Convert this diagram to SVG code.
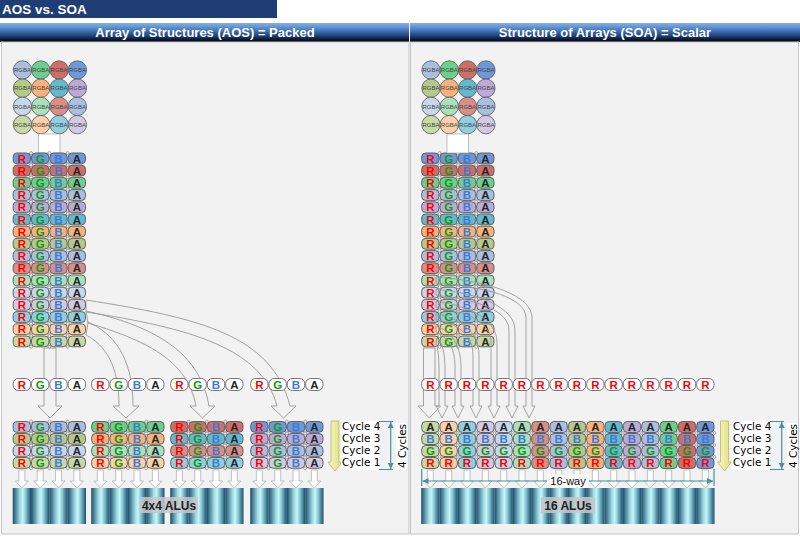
<svg xmlns="http://www.w3.org/2000/svg" width="800" height="537" viewBox="0 0 800 537">
<style>
text{font-family:"Liberation Sans",Arial,sans-serif}
.L{font-size:11.5px;font-weight:bold;text-anchor:middle}
.R{fill:#f00}.G{fill:#109a10}.B{fill:#3b7bd6}.A{fill:#262626}
.cell{stroke:#555;stroke-width:0.9}
.pill{fill:#fff;stroke:#666;stroke-width:0.9}
.dot{fill:#fff;stroke:#666;stroke-width:0.6}
.harrow{fill:none;stroke:#999;stroke-width:0.9}
.sarrow{fill:#fff;stroke:#a8a8a8;stroke-width:0.7}
.cyc{font-family:"DejaVu Sans",Verdana,sans-serif;font-size:10.4px;fill:#000}
.vc{font-family:"DejaVu Sans",Verdana,sans-serif;font-size:10.5px;fill:#000;text-anchor:middle}
.teal{stroke:#4a8fa3;stroke-width:1.2;fill:none}
.hdr{font-size:13px;font-weight:bold;fill:#fff;text-anchor:middle}
.alul{font-size:12px;font-weight:bold;fill:#222;text-anchor:middle}
.lbg{fill:#c8c8c8;fill-opacity:0.85}
</style>
<defs>
<linearGradient id="hdrg" x1="0" y1="0" x2="0" y2="1">
<stop offset="0" stop-color="#86b1e6"/><stop offset="0.35" stop-color="#4b7ec4"/><stop offset="0.7" stop-color="#1c3c70"/><stop offset="1" stop-color="#000"/>
</linearGradient>
<linearGradient id="alug" x1="0" y1="0" x2="1" y2="0">
<stop offset="0" stop-color="#1d4e68"/><stop offset="0.4" stop-color="#9edbe6"/><stop offset="0.55" stop-color="#c9f5f8"/><stop offset="0.72" stop-color="#7fc3d2"/><stop offset="1" stop-color="#1d4e68"/>
</linearGradient>
<linearGradient id="yel" x1="0" y1="0" x2="1" y2="0">
<stop offset="0" stop-color="#f8f8c8"/><stop offset="1" stop-color="#dede7c"/>
</linearGradient>
<marker id="ta" viewBox="0 0 6 6" refX="6" refY="3" markerWidth="6" markerHeight="6" markerUnits="userSpaceOnUse" orient="auto-start-reverse">
<path d="M0,0 L6,3 L0,6 Z" fill="#4a8fa3"/>
</marker>
<g id="row">
<rect class="cell" x="0.5" y="0.5" width="17.3" height="10.8" rx="4"/>
<rect class="cell" x="18.83" y="0.5" width="17.3" height="10.8" rx="4"/>
<rect class="cell" x="37.17" y="0.5" width="17.3" height="10.8" rx="4"/>
<rect class="cell" x="55.5" y="0.5" width="17.3" height="10.8" rx="4"/>
<text class="L R" x="9.17" y="10">R</text>
<text class="L G" x="27.5" y="10">G</text>
<text class="L B" x="45.83" y="10">B</text>
<text class="L A" x="64.17" y="10">A</text>
<circle class="dot" cx="18.33" cy="0.5" r="1.4"/>
<circle class="dot" cx="36.67" cy="0.5" r="1.4"/>
<circle class="dot" cx="55" cy="0.5" r="1.4"/>
<circle class="dot" cx="18.33" cy="11.3" r="1.4"/>
<circle class="dot" cx="36.67" cy="11.3" r="1.4"/>
<circle class="dot" cx="55" cy="11.3" r="1.4"/>
</g>
<g id="prow">
<rect class="pill" x="0.5" y="0.5" width="17.3" height="12" rx="5"/>
<rect class="pill" x="18.83" y="0.5" width="17.3" height="12" rx="5"/>
<rect class="pill" x="37.17" y="0.5" width="17.3" height="12" rx="5"/>
<rect class="pill" x="55.5" y="0.5" width="17.3" height="12" rx="5"/>
<text class="L R" x="9.17" y="10.6">R</text>
<text class="L G" x="27.5" y="10.6">G</text>
<text class="L B" x="45.83" y="10.6">B</text>
<text class="L A" x="64.17" y="10.6">A</text>
</g>
<g id="rp">
<rect class="pill" x="0.5" y="0.5" width="17.3" height="12" rx="5"/>
<text class="L R" x="9.17" y="10.6">R</text>
</g>
<g id="col">
<rect class="cell" x="0.5" y="0.5" width="17.3" height="11" rx="4"/>
<rect class="cell" x="0.5" y="12.5" width="17.3" height="11" rx="4"/>
<rect class="cell" x="0.5" y="24.5" width="17.3" height="11" rx="4"/>
<rect class="cell" x="0.5" y="36.5" width="17.3" height="11" rx="4"/>
<text class="L A" x="9.17" y="10.1">A</text>
<text class="L B" x="9.17" y="22.1">B</text>
<text class="L G" x="9.17" y="34.1">G</text>
<text class="L R" x="9.17" y="46.1">R</text>
<circle class="dot" cx="18.33" cy="12" r="1.3"/>
<circle class="dot" cx="18.33" cy="24" r="1.3"/>
<circle class="dot" cx="18.33" cy="36" r="1.3"/>
</g>
<g id="circ">
<circle r="9.2" stroke="#555" stroke-width="0.8"/>
<text x="0" y="2.1" font-size="6" text-anchor="middle" fill="#444">RGBA</text>
</g>
<g id="sa4">
<path class="sarrow" d="M6.17,470 V481 H2.67 L9.17,488 L15.67,481 H12.17 V470 Z"/>
<path class="sarrow" d="M24.5,470 V481 H21 L27.5,488 L34,481 H30.5 V470 Z"/>
<path class="sarrow" d="M42.83,470 V481 H39.33 L45.83,488 L52.33,481 H48.83 V470 Z"/>
<path class="sarrow" d="M61.17,470 V481 H57.67 L64.17,488 L70.67,481 H67.17 V470 Z"/>
</g>
<g id="alu4" fill="url(#alug)">
<rect x="0" y="488" width="18.33" height="36"/>
<rect x="18.33" y="488" width="18.33" height="36"/>
<rect x="36.67" y="488" width="18.33" height="36"/>
<rect x="55" y="488" width="18.33" height="36"/>
</g>
</defs>

<rect width="800" height="537" fill="#fff"/>
<g id="title">
<rect x="0" y="0" width="277" height="18" fill="#1f3e75"/>
<text x="2" y="14" font-size="13.5" font-weight="bold" fill="#fff">AOS vs. SOA</text>
</g>
<g id="panels">
<rect x="0" y="23" width="409" height="19" fill="url(#hdrg)"/>
<rect x="410" y="23" width="390" height="19" fill="url(#hdrg)"/>
<text class="hdr" x="205" y="37">Array of Structures (AOS) = Packed</text>
<text class="hdr" x="605" y="37">Structure of Arrays (SOA) = Scalar</text>
<rect x="1.5" y="42" width="407.5" height="492" fill="#f2f2f2" stroke="#c4c4c4"/>
<rect x="410.5" y="42" width="388" height="492" fill="#f2f2f2" stroke="#c4c4c4"/>
</g>

<!-- ================= LEFT (AOS) ================= -->
<g id="aos-input">
<use href="#circ" x="22.5" y="70" fill="#abbedd"/>
<use href="#circ" x="40.8" y="70" fill="#6ccf8e"/>
<use href="#circ" x="59.1" y="70" fill="#cd6e69"/>
<use href="#circ" x="77.4" y="70" fill="#6f98d8"/>
<use href="#circ" x="22.5" y="88.2" fill="#b5c98a"/>
<use href="#circ" x="40.8" y="88.2" fill="#f9b27c"/>
<use href="#circ" x="59.1" y="88.2" fill="#65b9cf"/>
<use href="#circ" x="77.4" y="88.2" fill="#bcaad7"/>
<use href="#circ" x="22.5" y="106.4" fill="#c9d7ec"/>
<use href="#circ" x="40.8" y="106.4" fill="#a8e2bb"/>
<use href="#circ" x="59.1" y="106.4" fill="#d98f88"/>
<use href="#circ" x="77.4" y="106.4" fill="#aabfe2"/>
<use href="#circ" x="22.5" y="124.6" fill="#c7d9a5"/>
<use href="#circ" x="40.8" y="124.6" fill="#fdd1a8"/>
<use href="#circ" x="59.1" y="124.6" fill="#8fd0e0"/>
<use href="#circ" x="77.4" y="124.6" fill="#d2c9e4"/>
</g>
<g id="aos-connectors">
<path class="sarrow" d="M38.5,134 H60 V153 H38.5 Z"/>
<path class="harrow" d="M44,348 V406 H38 L50,418 L62,406 H56 V348 Z"/>
<path class="harrow" d="M86,300 C200,318 272,335 290,406 L296,406 L283.5,418 L271,406 L277,406 C262,348 190,328 86,312 Z"/>
<path class="harrow" d="M86,311 C150,325 200,350 209,406 L215,406 L202.5,418 L190,406 L196,406 C188,360 145,340 88,323 Z"/>
<path class="harrow" d="M88,322 C112,333 133,355 133,406 L139,406 L126,418 L113,406 L119,406 C119,365 105,345 86,335 Z"/>
</g>
<g id="aos-stack">
<use href="#row" x="12.7" y="152.5" fill="#6f98d8"/>
<use href="#row" x="12.7" y="164.7" fill="#cd6e69"/>
<use href="#row" x="12.7" y="176.9" fill="#6ccf8e"/>
<use href="#row" x="12.7" y="189.1" fill="#abbedd"/>
<use href="#row" x="12.7" y="201.3" fill="#bcaad7"/>
<use href="#row" x="12.7" y="213.5" fill="#65b9cf"/>
<use href="#row" x="12.7" y="225.7" fill="#f9b27c"/>
<use href="#row" x="12.7" y="237.9" fill="#b5c98a"/>
<use href="#row" x="12.7" y="250.1" fill="#aabfe2"/>
<use href="#row" x="12.7" y="262.3" fill="#d98f88"/>
<use href="#row" x="12.7" y="274.5" fill="#a8e2bb"/>
<use href="#row" x="12.7" y="286.7" fill="#c9d7ec"/>
<use href="#row" x="12.7" y="298.9" fill="#d2c9e4"/>
<use href="#row" x="12.7" y="311.1" fill="#8fd0e0"/>
<use href="#row" x="12.7" y="323.3" fill="#fdd1a8"/>
<use href="#row" x="12.7" y="335.5" fill="#c7d9a5"/>
</g>
<g id="aos-packed">
<use href="#prow" x="12.7" y="378"/>
<use href="#prow" x="91.2" y="378"/>
<use href="#prow" x="170.2" y="378"/>
<use href="#prow" x="250.2" y="378"/>
</g>
<g id="aos-group1">
<use href="#row" x="12.7" y="421" fill="#abbedd"/>
<use href="#row" x="12.7" y="433" fill="#b5c98a"/>
<use href="#row" x="12.7" y="445" fill="#c9d7ec"/>
<use href="#row" x="12.7" y="457" fill="#c7d9a5"/>
</g>
<g id="aos-group2">
<use href="#row" x="91.2" y="421" fill="#6ccf8e"/>
<use href="#row" x="91.2" y="433" fill="#f9b27c"/>
<use href="#row" x="91.2" y="445" fill="#a8e2bb"/>
<use href="#row" x="91.2" y="457" fill="#fdd1a8"/>
</g>
<g id="aos-group3">
<use href="#row" x="170.2" y="421" fill="#cd6e69"/>
<use href="#row" x="170.2" y="433" fill="#65b9cf"/>
<use href="#row" x="170.2" y="445" fill="#d98f88"/>
<use href="#row" x="170.2" y="457" fill="#8fd0e0"/>
</g>
<g id="aos-group4">
<use href="#row" x="250.2" y="421" fill="#6f98d8"/>
<use href="#row" x="250.2" y="433" fill="#bcaad7"/>
<use href="#row" x="250.2" y="445" fill="#aabfe2"/>
<use href="#row" x="250.2" y="457" fill="#d2c9e4"/>
</g>
<g id="aos-feed">
<use href="#sa4" x="12.7"/>
<use href="#sa4" x="91.2"/>
<use href="#sa4" x="170.2"/>
<use href="#sa4" x="250.2"/>
</g>
<g id="aos-alus">
<use href="#alu4" x="12.7"/>
<use href="#alu4" x="91.2"/>
<use href="#alu4" x="170.2"/>
<use href="#alu4" x="250.2"/>
<rect class="lbg" x="140" y="497" width="58" height="16"/>
<text class="alul" x="169" y="509.5">4x4 ALUs</text>
</g>
<g id="aos-cycles">
<path d="M331,421 H339 V462 H342 L335,471 L328,462 H331 Z" fill="url(#yel)" stroke="#b8b860" stroke-width="0.8"/>
<rect x="341" y="421" width="38" height="49" fill="#fff"/>
<text class="cyc" x="342" y="430">Cycle 4</text>
<text class="cyc" x="342" y="442">Cycle 3</text>
<text class="cyc" x="342" y="454">Cycle 2</text>
<text class="cyc" x="342" y="466">Cycle 1</text>
<path class="teal" d="M379,421.5 H393 M379,469.5 H393"/>
<path class="teal" d="M390.7,422 V469" marker-start="url(#ta)" marker-end="url(#ta)"/>
<rect x="396" y="423" width="11" height="46" fill="#fff"/>
<text class="vc" transform="translate(406,446) rotate(-90)">4 Cycles</text>
</g>

<!-- ================= RIGHT (SOA) ================= -->
<g id="soa-input">
<use href="#circ" x="431" y="70" fill="#abbedd"/>
<use href="#circ" x="449.3" y="70" fill="#6ccf8e"/>
<use href="#circ" x="467.6" y="70" fill="#cd6e69"/>
<use href="#circ" x="485.9" y="70" fill="#6f98d8"/>
<use href="#circ" x="431" y="88.2" fill="#b5c98a"/>
<use href="#circ" x="449.3" y="88.2" fill="#f9b27c"/>
<use href="#circ" x="467.6" y="88.2" fill="#65b9cf"/>
<use href="#circ" x="485.9" y="88.2" fill="#bcaad7"/>
<use href="#circ" x="431" y="106.4" fill="#c9d7ec"/>
<use href="#circ" x="449.3" y="106.4" fill="#a8e2bb"/>
<use href="#circ" x="467.6" y="106.4" fill="#d98f88"/>
<use href="#circ" x="485.9" y="106.4" fill="#aabfe2"/>
<use href="#circ" x="431" y="124.6" fill="#c7d9a5"/>
<use href="#circ" x="449.3" y="124.6" fill="#fdd1a8"/>
<use href="#circ" x="467.6" y="124.6" fill="#8fd0e0"/>
<use href="#circ" x="485.9" y="124.6" fill="#d2c9e4"/>
</g>
<g id="soa-stack">
<use href="#row" x="421.2" y="152.5" fill="#6f98d8"/>
<use href="#row" x="421.2" y="164.7" fill="#cd6e69"/>
<use href="#row" x="421.2" y="176.9" fill="#6ccf8e"/>
<use href="#row" x="421.2" y="189.1" fill="#abbedd"/>
<use href="#row" x="421.2" y="201.3" fill="#bcaad7"/>
<use href="#row" x="421.2" y="213.5" fill="#65b9cf"/>
<use href="#row" x="421.2" y="225.7" fill="#f9b27c"/>
<use href="#row" x="421.2" y="237.9" fill="#b5c98a"/>
<use href="#row" x="421.2" y="250.1" fill="#aabfe2"/>
<use href="#row" x="421.2" y="262.3" fill="#d98f88"/>
<use href="#row" x="421.2" y="274.5" fill="#a8e2bb"/>
<use href="#row" x="421.2" y="286.7" fill="#c9d7ec"/>
<use href="#row" x="421.2" y="298.9" fill="#d2c9e4"/>
<use href="#row" x="421.2" y="311.1" fill="#8fd0e0"/>
<use href="#row" x="421.2" y="323.3" fill="#fdd1a8"/>
<use href="#row" x="421.2" y="335.5" fill="#c7d9a5"/>
</g>
<g id="soa-connectors">
<path class="sarrow" d="M447,134 H468.5 V153 H447 Z"/>
<path class="harrow" d="M423.5,348 V406 H418 L429.3,418 L440.5,406 H435 V348 Z"/>
<path class="harrow" d="M436,277 C488.8,281 532,295.2 532,318 V406 H535 L529,418 L523,406 H526 V318 C526,297.2 485.5,287 436,283 Z"/>
<path class="harrow" d="M436,289.3 C479.5,293.3 515,307.5 515,330.3 V406 H518 L512,418 L506,406 H509 V330.3 C509,309.5 474.2,299.3 436,295.3 Z"/>
<path class="harrow" d="M436,301.5 C469.6,305.5 497,319.7 497,342.5 V406 H500 L494,418 L488,406 H491 V342.5 C491,321.7 466.3,311.5 436,307.5 Z"/>
<path class="harrow" d="M436,313.7 C459.7,317.7 479,331.9 479,354.7 V406 H482 L476,418 L470,406 H473 V354.7 C473,333.9 456.4,323.7 436,319.7 Z"/>
<path class="harrow" d="M436,326 C449.8,330 461,344.2 461,367 V406 H464 L458,418 L452,406 H455 V367 C455,346.2 446.5,336 436,332 Z"/>
<path class="harrow" d="M437,338 C442,342 445,352 445,370 V406 H448 L442,418 L436,406 H439 V370 C439,356 438,349 436,344 Z"/>
</g>
<g id="soa-scalar">
<use href="#rp" x="421.2" y="378"/>
<use href="#rp" x="439.53" y="378"/>
<use href="#rp" x="457.87" y="378"/>
<use href="#rp" x="476.2" y="378"/>
<use href="#rp" x="494.53" y="378"/>
<use href="#rp" x="512.87" y="378"/>
<use href="#rp" x="531.2" y="378"/>
<use href="#rp" x="549.53" y="378"/>
<use href="#rp" x="567.87" y="378"/>
<use href="#rp" x="586.2" y="378"/>
<use href="#rp" x="604.53" y="378"/>
<use href="#rp" x="622.87" y="378"/>
<use href="#rp" x="641.2" y="378"/>
<use href="#rp" x="659.53" y="378"/>
<use href="#rp" x="677.87" y="378"/>
<use href="#rp" x="696.2" y="378"/>
</g>
<g id="soa-block">
<use href="#col" x="421.2" y="421" fill="#c7d9a5"/>
<use href="#col" x="439.53" y="421" fill="#fdd1a8"/>
<use href="#col" x="457.87" y="421" fill="#8fd0e0"/>
<use href="#col" x="476.2" y="421" fill="#d2c9e4"/>
<use href="#col" x="494.53" y="421" fill="#c9d7ec"/>
<use href="#col" x="512.87" y="421" fill="#a8e2bb"/>
<use href="#col" x="531.2" y="421" fill="#d98f88"/>
<use href="#col" x="549.53" y="421" fill="#aabfe2"/>
<use href="#col" x="567.87" y="421" fill="#b5c98a"/>
<use href="#col" x="586.2" y="421" fill="#f9b27c"/>
<use href="#col" x="604.53" y="421" fill="#65b9cf"/>
<use href="#col" x="622.87" y="421" fill="#bcaad7"/>
<use href="#col" x="641.2" y="421" fill="#abbedd"/>
<use href="#col" x="659.53" y="421" fill="#6ccf8e"/>
<use href="#col" x="677.87" y="421" fill="#cd6e69"/>
<use href="#col" x="696.2" y="421" fill="#6f98d8"/>
</g>
<g id="soa-feed">
<use href="#sa4" x="421.2"/>
<use href="#sa4" x="494.53"/>
<use href="#sa4" x="567.87"/>
<use href="#sa4" x="641.2"/>
</g>
<g id="soa-alus">
<use href="#alu4" x="421.2"/>
<use href="#alu4" x="494.53"/>
<use href="#alu4" x="567.87"/>
<use href="#alu4" x="641.2"/>
<rect class="lbg" x="541" y="497" width="54" height="16"/>
<text class="alul" x="568" y="509.5">16 ALUs</text>
</g>
<g id="soa-width">
<path class="teal" d="M421.7,469 V486 M714,469 V486"/>
<path class="teal" d="M422.5,481 H713" marker-start="url(#ta)" marker-end="url(#ta)"/>
<rect x="547" y="474.5" width="42" height="13" fill="#fafafa"/>
<text x="568" y="484.5" font-family="DejaVu Sans, Verdana, sans-serif" font-size="11" text-anchor="middle" fill="#111">16-way</text>
</g>
<g id="soa-cycles">
<path d="M720.5,421 H728.5 V462 H731.5 L724.5,471 L717.5,462 H720.5 Z" fill="url(#yel)" stroke="#b8b860" stroke-width="0.8"/>
<rect x="731.5" y="421" width="38" height="49" fill="#fff"/>
<text class="cyc" x="733" y="430">Cycle 4</text>
<text class="cyc" x="733" y="442">Cycle 3</text>
<text class="cyc" x="733" y="454">Cycle 2</text>
<text class="cyc" x="733" y="466">Cycle 1</text>
<path class="teal" d="M770,421.5 H784 M770,469.5 H784"/>
<path class="teal" d="M781.7,422 V469" marker-start="url(#ta)" marker-end="url(#ta)"/>
<rect x="787" y="423" width="11" height="46" fill="#fff"/>
<text class="vc" transform="translate(797,446) rotate(-90)">4 Cycles</text>
</g>
</svg>
